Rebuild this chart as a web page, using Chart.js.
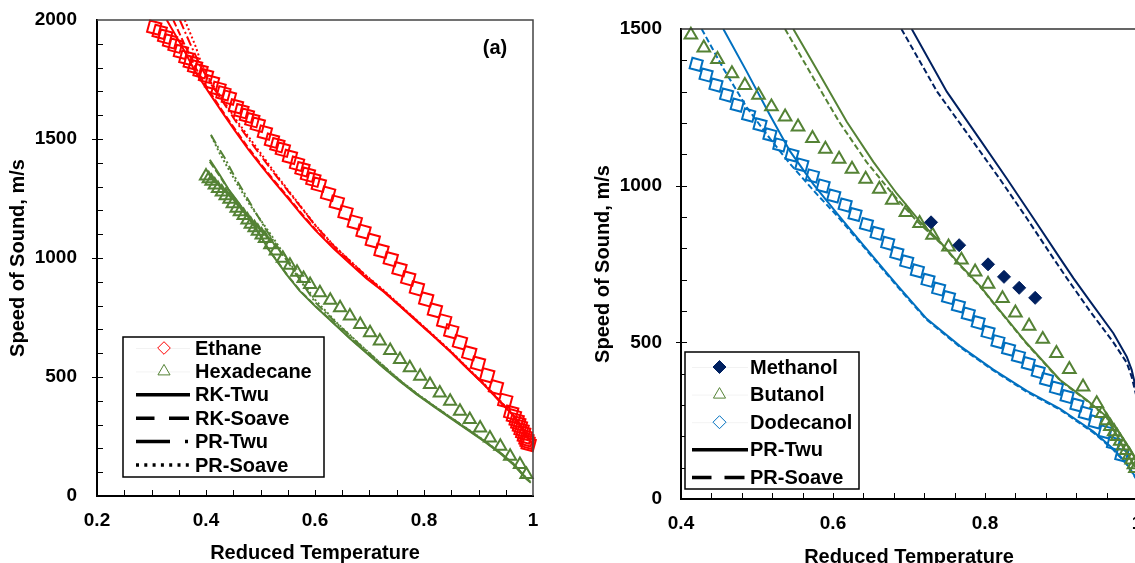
<!DOCTYPE html>
<html lang="en">
<head>
<meta charset="utf-8" />
<title>Speed of sound vs reduced temperature</title>
<script src="https://cdnjs.cloudflare.com/ajax/libs/Chart.js/4.4.0/chart.umd.js"></script>
<style>
    html, body { margin: 0; padding: 0; background: #fff; overflow: hidden; }
    .panel { position: absolute; top: 0; }
    #left { left: 0; width: 560px; height: 563px; }
    #right { left: 560px; width: 600px; height: 567px; }
</style>
</head>
<body>
<div class="panel" id="left"><canvas id="chartA"></canvas></div>
<div class="panel" id="right"><canvas id="chartB"></canvas></div>
<script>
// ---- panel (a): ethane / hexadecane, T/Tc vs speed of sound (m/s) ----
const ethaneT = [0.305,0.315,0.325,0.334,0.344,0.354,0.364,0.372,0.380,0.390,0.400,0.411,0.423,0.432,0.442,0.455,0.465,0.475,0.485,0.495,0.508,0.521,0.531,0.541,0.554,0.567,0.577,0.587,0.597,0.607,0.624,0.640,0.656,0.673,0.689,0.706,0.722,0.739,0.755,0.771,0.787,0.804,0.820,0.837,0.850,0.866,0.883,0.899,0.916,0.932,0.949,0.960,0.965,0.970,0.973,0.976,0.979,0.982,0.985,0.988,0.990,0.992];
const ethaneU = [1968,1950,1930,1910,1892,1866,1841,1822,1803,1785,1765,1738,1711,1692,1674,1637,1617,1598,1579,1560,1527,1493,1474,1455,1425,1396,1373,1350,1329,1308,1270,1233,1190,1150,1111,1073,1030,995,953,914,872,826,780,734,692,646,600,556,507,457,400,350,335,318,305,292,278,265,250,238,228,218];

const hexT = [0.400,0.405,0.410,0.416,0.422,0.429,0.436,0.443,0.449,0.456,0.462,0.469,0.476,0.482,0.489,0.495,0.502,0.508,0.518,0.528,0.541,0.554,0.567,0.579,0.591,0.609,0.628,0.646,0.664,0.683,0.701,0.719,0.738,0.756,0.774,0.793,0.811,0.829,0.848,0.866,0.884,0.903,0.921,0.940,0.958,0.976,0.988];
const hexU = [1345,1333,1322,1307,1292,1277,1262,1247,1228,1209,1194,1179,1160,1142,1127,1112,1097,1082,1056,1029,999,970,940,914,889,854,822,791,756,721,686,651,611,574,539,503,468,433,398,356,321,286,244,209,167,132,90];

const ethRkTwuT = [0.328,0.355,0.380,0.404,0.429,0.453,0.478,0.502,0.527,0.551,0.576,0.600,0.634,0.665,0.695,0.726,0.756,0.786,0.817,0.848,0.878,0.910,0.940,0.963,0.980,0.993,1.000];
const ethRkTwuU = [2000,1893,1785,1700,1615,1535,1455,1385,1315,1250,1180,1118,1040,975,913,858,797,735,672,607,539,468,395,340,285,235,215];
const ethRkSoaveT = [0.340,0.360,0.382,0.404,0.429,0.453,0.478,0.502,0.527,0.551,0.576,0.600,0.634,0.665,0.695,0.726,0.756,0.786,0.817,0.848,0.878,0.910,0.940,0.963,0.980,0.993,1.000];
const ethRkSoaveU = [2000,1900,1795,1708,1622,1542,1462,1390,1320,1255,1185,1122,1043,978,916,860,799,737,673,608,540,469,396,341,286,236,216];
const ethPrTwuT = [0.352,0.370,0.390,0.410,0.430,0.453,0.478,0.502,0.527,0.551,0.576,0.600,0.634,0.665,0.695,0.726,0.756,0.786,0.817,0.848,0.878,0.910,0.940,0.963,0.980,0.993];
const ethPrTwuU = [2000,1905,1805,1728,1660,1580,1500,1425,1350,1280,1208,1138,1052,985,922,862,800,738,674,609,541,470,397,342,287,237];
const ethPrSoaveT = [0.361,0.380,0.392,0.410,0.430,0.453,0.478,0.502,0.527,0.551,0.576,0.600,0.634,0.665,0.695,0.726,0.756,0.786,0.817,0.848,0.878,0.910,0.940,0.963,0.980,0.993];
const ethPrSoaveU = [2000,1895,1815,1735,1668,1588,1510,1435,1356,1284,1211,1140,1054,987,924,864,802,740,676,611,543,472,399,344,289,239];

const hexRkTwuT = [0.407,0.425,0.441,0.460,0.478,0.497,0.515,0.548,0.572,0.600,0.634,0.665,0.695,0.726,0.756,0.786,0.817,0.848,0.878,0.910,0.940,0.965,0.988,0.996];
const hexRkTwuU = [1413,1350,1290,1232,1170,1105,1035,930,862,798,726,660,600,538,481,428,377,328,281,230,179,130,71,56];
const hexRkSoaveT = [0.407,0.425,0.441,0.460,0.478,0.497,0.515,0.548,0.572,0.600,0.634,0.665,0.695,0.726,0.756,0.786,0.817,0.848,0.878,0.910,0.940,0.965,0.988,0.996];
const hexRkSoaveU = [1405,1345,1287,1230,1168,1103,1036,932,864,800,728,662,602,540,483,430,379,330,283,232,181,132,73,58];
const hexPrTwuT = [0.409,0.422,0.435,0.453,0.472,0.490,0.510,0.530,0.560,0.600,0.640,0.680,0.726,0.756,0.786,0.817,0.848,0.878,0.910,0.940,0.965,0.988,0.996];
const hexPrTwuU = [1518,1466,1418,1340,1266,1195,1120,1050,950,815,725,640,545,485,431,380,331,284,233,182,133,74,58];
const hexPrSoaveT = [0.410,0.425,0.441,0.460,0.480,0.500,0.520,0.545,0.575,0.600,0.640,0.680,0.726,0.756,0.786,0.817,0.848,0.878,0.910,0.940,0.965,0.988];
const hexPrSoaveU = [1512,1440,1375,1300,1225,1160,1095,1010,905,825,728,642,546,486,432,381,332,285,234,183,134,75];

// ---- panel (b): alcohols ----
const methanolT = [0.729,0.766,0.804,0.825,0.845,0.866];
const methanolU = [883,810,749,709,674,642];

const butanolT = [0.413,0.430,0.448,0.467,0.484,0.502,0.519,0.537,0.554,0.573,0.590,0.608,0.625,0.643,0.661,0.678,0.696,0.714,0.731,0.752,0.769,0.787,0.804,0.823,0.840,0.858,0.876,0.894,0.911,0.929,0.947,0.954,0.960,0.965,0.970,0.974,0.978,0.982,0.986,0.990,0.993,0.996,0.998];
const butanolU = [1481,1440,1403,1358,1320,1289,1252,1220,1188,1151,1117,1085,1053,1021,989,954,915,880,842,805,763,725,686,640,594,552,510,465,414,358,305,273,250,232,215,200,185,170,155,140,125,110,98];

const dodecanolT = [0.420,0.433,0.446,0.460,0.474,0.489,0.504,0.517,0.530,0.546,0.559,0.573,0.587,0.601,0.616,0.629,0.644,0.658,0.672,0.684,0.697,0.711,0.725,0.739,0.752,0.765,0.778,0.791,0.804,0.817,0.831,0.844,0.857,0.870,0.881,0.894,0.908,0.921,0.932,0.945,0.958,0.969,0.980];
const dodecanolU = [1387,1353,1321,1289,1257,1225,1194,1162,1130,1098,1066,1031,999,967,938,908,876,848,816,784,757,728,698,670,643,616,590,563,532,502,478,455,432,406,381,354,327,300,274,246,214,178,140];

const methPrTwuT = [0.7036,0.7497,0.7891,0.8286,0.8637,0.8988,0.9163,0.9400,0.9689,0.9865,0.993,0.998,1.0];
const methPrTwuU = [1500,1300,1162,1023,896,768,705,625,529,454,412,360,330];
const methPrSoaveT = [0.690,0.737,0.778,0.819,0.855,0.890,0.9076,0.938,0.9689,0.9865,0.993,0.998,1.0];
const methPrSoaveU = [1500,1300,1162,1023,896,768,705,600,500,435,390,340,320];

const butPrTwuT = [0.5478,0.5829,0.6181,0.6531,0.6838,0.7145,0.7408,0.7672,0.7935,0.811,0.855,0.8988,0.9339,0.960,0.9865,0.9975];
const butPrTwuU = [1500,1353,1204,1076,975,885,821,747,680,627,497,380,316,263,146,103];
const butPrSoaveT = [0.5369,0.5720,0.6080,0.6440,0.6780,0.7100,0.7408,0.7672,0.7935,0.811,0.855,0.8988,0.9339,0.960,0.9865,0.9975];
const butPrSoaveU = [1500,1353,1204,1076,975,888,818,745,678,625,495,378,314,261,144,101];

const dodPrTwuT = [0.4557,0.4865,0.5171,0.5434,0.5741,0.6049,0.6399,0.6707,0.6882,0.7233,0.7672,0.811,0.855,0.8988,0.9426,0.9689,0.985,0.9975,1.0];
const dodPrTwuU = [1500,1364,1225,1110,1005,912,810,722,672,575,488,413,345,288,215,160,118,72,60];
const dodPrSoaveT = [0.4272,0.4557,0.4865,0.5171,0.5434,0.5741,0.6049,0.6399,0.6707,0.6882,0.7233,0.7672,0.811,0.855,0.8988,0.9426,0.9689,0.985,0.9975,1.0];
const dodPrSoaveU = [1500,1374,1250,1150,1070,985,905,806,718,668,572,485,410,342,285,212,157,115,70,58];

const leftModels = ['RK-Twu', 'RK-Soave', 'PR-Twu', 'PR-Soave'];
const rightModels = ['PR-Twu', 'PR-Soave'];

const FONT = '"Liberation Sans", Arial, Helvetica, sans-serif';
const RED = '#ff0000', GREEN = '#548235', BLUE = '#0070c0', NAVY = '#002060';

function pts(t, u) {
    return t.map((x, i) => ({ x: x, y: u[i] }));
}

function markerSet(label, t, u, color, style, radius, rotation, filled) {
    return {
        label: label,
        data: pts(t, u),
        showLine: false,
        pointStyle: style,
        pointRadius: radius,
        pointHoverRadius: radius,
        pointRotation: rotation,
        pointBorderColor: color,
        pointBackgroundColor: filled ? color : 'rgba(0,0,0,0)',
        pointBorderWidth: filled ? 1 : 2,
        clip: false
    };
}

function curveSet(label, t, u, color, dash) {
    return {
        label: label,
        data: pts(t, u),
        showLine: true,
        borderColor: color,
        borderWidth: 2,
        borderDash: dash,
        pointRadius: 0,
        pointHoverRadius: 0,
        fill: false
    };
}

// inward minor ticks and the closing frame lines (top, right)
const frameTicks = {
    id: 'frameTicks',
    afterDraw(chart, args, o) {
        const { ctx, chartArea: a, scales: { x, y } } = chart;
        ctx.save();
        ctx.strokeStyle = o.frameColor;
        ctx.lineWidth = 1.5;
        ctx.beginPath();
        ctx.moveTo(a.left, a.top);
        ctx.lineTo(a.right, a.top);
        ctx.lineTo(a.right, a.bottom);
        ctx.stroke();

        ctx.strokeStyle = '#000';
        ctx.lineWidth = 1;
        ctx.beginPath();
        const nx = Math.round((x.max - x.min) / o.xMinor);
        for (let i = 1; i < nx; i++) {
            const px = Math.round(x.getPixelForValue(x.min + i * o.xMinor)) + 0.5;
            ctx.moveTo(px, a.bottom);
            ctx.lineTo(px, a.bottom - 6);
        }
        const ny = Math.round((y.max - y.min) / o.yMinor);
        for (let i = 1; i < ny; i++) {
            const v = y.min + i * o.yMinor;
            const py = Math.round(y.getPixelForValue(v)) + 0.5;
            const out = (v % o.yMajor === 0) ? 5 : 0;
            ctx.moveTo(a.left - out, py);
            ctx.lineTo(a.left + 6, py);
        }
        ctx.stroke();

        if (o.tag) {
            ctx.fillStyle = '#000';
            ctx.font = 'bold 20px ' + FONT;
            ctx.textAlign = 'center';
            ctx.textBaseline = 'middle';
            ctx.fillText(o.tag.text, o.tag.x, o.tag.y);
        }
        ctx.restore();
    }
};

// boxed legend placed inside the plot area
const boxLegend = {
    id: 'boxLegend',
    afterDraw(chart, args, o) {
        if (!o.items) return;
        const ctx = chart.ctx;
        ctx.save();
        ctx.fillStyle = '#fff';
        ctx.fillRect(o.left, o.top, o.width, o.height);
        ctx.strokeStyle = '#000';
        ctx.lineWidth = 1.5;
        ctx.strokeRect(o.left, o.top, o.width, o.height);
        o.items.forEach((it, i) => {
            const y = o.firstRow + i * o.rowStep;
            if (it.marker) {
                ctx.strokeStyle = 'rgba(0,0,0,0.05)';
                ctx.lineWidth = 1;
                ctx.beginPath();
                ctx.moveTo(o.lineFrom, y + 0.5);
                ctx.lineTo(o.lineTo, y + 0.5);
                ctx.stroke();
                ctx.strokeStyle = it.color;
                ctx.fillStyle = it.filled ? it.color : '#fff';
                Chart.helpers.drawPoint(ctx, {
                    pointStyle: it.marker, radius: it.radius, rotation: 0, borderWidth: it.filled ? 1 : 2
                }, o.markerX, y);
            } else {
                ctx.strokeStyle = '#000';
                ctx.lineWidth = 3.5;
                ctx.lineCap = 'butt';
                ctx.setLineDash(it.dash);
                ctx.beginPath();
                ctx.moveTo(o.lineFrom, y);
                ctx.lineTo(o.lineTo, y);
                ctx.stroke();
                ctx.setLineDash([]);
            }
            ctx.fillStyle = '#000';
            ctx.font = 'bold 20px ' + FONT;
            ctx.textAlign = 'left';
            ctx.textBaseline = 'middle';
            ctx.fillText(it.text, o.textX, y + 1);
        });
        ctx.restore();
    }
};

function scalesFor(c) {
    const tickFont = { family: FONT, size: 19, weight: 'bold', lineHeight: 1 };
    const titleFont = { family: FONT, size: 20, weight: 'bold', lineHeight: 1 };
    return {
        x: {
            type: 'linear', min: c.xMin, max: c.xMax,
            ticks: { stepSize: 0.2, color: '#000', font: tickFont, padding: 15, maxRotation: 0, autoSkip: false,
                     callback: v => String(+v.toFixed(2)) },
            grid: { drawOnChartArea: false, drawTicks: false },
            border: { display: true, color: '#000', width: 2 },
            title: { display: true, text: 'Reduced Temperature', color: '#000', font: titleFont, padding: { top: 0, bottom: 0 } },
            afterFit: s => { s.height = c.xHeight; }
        },
        y: {
            type: 'linear', min: 0, max: c.yMax,
            ticks: { stepSize: 500, color: '#000', font: tickFont, padding: c.yPad, callback: v => String(v) },
            grid: { drawOnChartArea: false, drawTicks: false },
            border: { display: true, color: '#000', width: 2 },
            title: { display: true, text: 'Speed of Sound, m/s', color: '#000', font: titleFont, padding: { top: c.yTitlePad, bottom: 0 } },
            // keep the label gap from pushing the plot area down
            afterFit: s => { s.width = c.yWidth; s.paddingTop = 10; s.paddingBottom = 10; }
        }
    };
}

new Chart(document.getElementById('chartA'), {
    type: 'scatter',
    data: {
        datasets: [
            markerSet('Ethane', ethaneT, ethaneU, RED, 'rect', 8.3, 15, false),
            markerSet('Hexadecane', hexT, hexU, GREEN, 'triangle', 7, 0, false),
            curveSet(leftModels[0], ethRkTwuT, ethRkTwuU, RED, []),
            curveSet(leftModels[1], ethRkSoaveT, ethRkSoaveU, RED, [7, 3]),
            curveSet(leftModels[2], ethPrTwuT, ethPrTwuU, RED, [10, 3, 2, 3]),
            curveSet(leftModels[3], ethPrSoaveT, ethPrSoaveU, RED, [2, 2.5]),
            curveSet(leftModels[0], hexRkTwuT, hexRkTwuU, GREEN, []),
            curveSet(leftModels[1], hexRkSoaveT, hexRkSoaveU, GREEN, [7, 3]),
            curveSet(leftModels[2], hexPrTwuT, hexPrTwuU, GREEN, [10, 3, 2, 3]),
            curveSet(leftModels[3], hexPrSoaveT, hexPrSoaveU, GREEN, [2, 2.5])
        ]
    },
    options: {
        responsive: true,
        maintainAspectRatio: false,
        animation: false,
        events: [],
        layout: { padding: { left: 0, top: 20, right: 27, bottom: 0 } },
        scales: scalesFor({ xMin: 0.2, xMax: 1, yMax: 2000, xHeight: 67, yWidth: 97, yPad: 20, yTitlePad: 8 }),
        plugins: {
            legend: { display: false },
            tooltip: { enabled: false },
            frameTicks: { frameColor: '#444', xMinor: 0.05, yMinor: 100, yMajor: 500, tag: { text: '(a)', x: 495, y: 48 } },
            boxLegend: {
                left: 123, top: 337, width: 201, height: 140,
                firstRow: 348, rowStep: 23.4, textX: 195, markerX: 164, lineFrom: 136, lineTo: 190,
                items: [
                    { text: 'Ethane', marker: 'rectRot', color: RED, radius: 6.3 },
                    { text: 'Hexadecane', marker: 'triangle', color: GREEN, radius: 7 },
                    { text: leftModels[0], dash: [] },
                    { text: leftModels[1], dash: [18.5, 14.5, 20] },
                    { text: leftModels[2], dash: [34, 15, 3, 60] },
                    { text: leftModels[3], dash: [3, 5.3] }
                ]
            }
        }
    },
    plugins: [frameTicks, boxLegend]
});

new Chart(document.getElementById('chartB'), {
    type: 'scatter',
    data: {
        datasets: [
            markerSet('Methanol', methanolT, methanolU, NAVY, 'rectRot', 6.5, 0, true),
            markerSet('Butanol', butanolT, butanolU, GREEN, 'triangle', 7.3, 0, false),
            markerSet('Dodecanol', dodecanolT, dodecanolU, BLUE, 'rect', 7.6, 15, false),
            curveSet(rightModels[0], methPrTwuT, methPrTwuU, NAVY, []),
            curveSet(rightModels[1], methPrSoaveT, methPrSoaveU, NAVY, [6, 3]),
            curveSet(rightModels[0], butPrTwuT, butPrTwuU, GREEN, []),
            curveSet(rightModels[1], butPrSoaveT, butPrSoaveU, GREEN, [6, 3]),
            curveSet(rightModels[0], dodPrTwuT, dodPrTwuU, BLUE, []),
            curveSet(rightModels[1], dodPrSoaveT, dodPrSoaveU, BLUE, [6, 3])
        ]
    },
    options: {
        responsive: true,
        maintainAspectRatio: false,
        animation: false,
        events: [],
        layout: { padding: { left: 0, top: 29, right: 23, bottom: 0 } },
        scales: scalesFor({ xMin: 0.4, xMax: 1, yMax: 1500, xHeight: 68, yWidth: 121, yPad: 19, yTitlePad: 33 }),
        plugins: {
            legend: { display: false },
            tooltip: { enabled: false },
            frameTicks: { frameColor: '#333', xMinor: 0.04, yMinor: 100, yMajor: 500 },
            boxLegend: {
                left: 125, top: 352, width: 174, height: 137,
                firstRow: 367, rowStep: 27.6, textX: 190, markerX: 159.5, lineFrom: 132, lineTo: 188,
                items: [
                    { text: 'Methanol', marker: 'rectRot', color: NAVY, radius: 6.5, filled: true },
                    { text: 'Butanol', marker: 'triangle', color: GREEN, radius: 7 },
                    { text: 'Dodecanol', marker: 'rectRot', color: BLUE, radius: 6.5 },
                    { text: rightModels[0], dash: [] },
                    { text: rightModels[1], dash: [19.5, 13, 20] }
                ]
            }
        }
    },
    plugins: [frameTicks, boxLegend]
});
</script>
</body>
</html>
